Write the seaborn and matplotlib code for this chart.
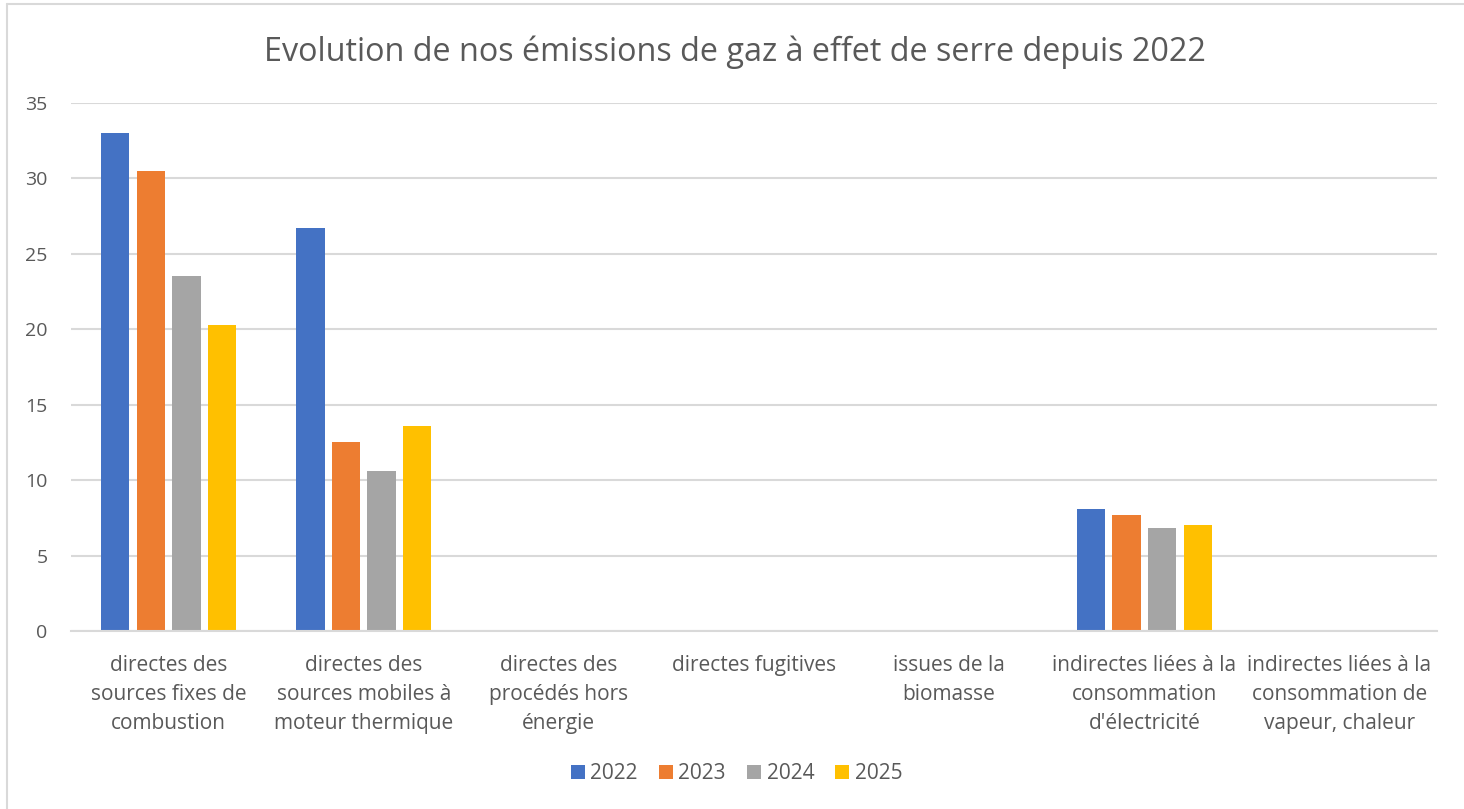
import numpy as np
import pandas as pd
import matplotlib.pyplot as plt
import seaborn as sns
from matplotlib.lines import Line2D

# données
categories = ['directes des\nsources fixes de\ncombustion',
              'directes des\nsources mobiles à\nmoteur thermique',
              'directes des\nprocédés hors\nénergie',
              'directes fugitives',
              'issues de la\nbiomasse',
              'indirectes liées à la\nconsommation\nd\'électricité',
              'indirectes liées à la\nconsommation de\nvapeur, chaleur']
years = ['2022', '2023', '2024', '2025']
v2022 = [33.0, 26.7, np.nan, np.nan, np.nan, 8.1, np.nan]
v2023 = [30.5, 12.5, np.nan, np.nan, np.nan, 7.7, np.nan]
v2024 = [23.5, 10.6, np.nan, np.nan, np.nan, 6.8, np.nan]
v2025 = [20.3, 13.6, np.nan, np.nan, np.nan, 7.0, np.nan]
colors = ['#4472C4', '#ED7D31', '#A5A5A5', '#FFC000']

rows = []
for y, vals in zip(years, [v2022, v2023, v2024, v2025]):
    for c, v in zip(categories, vals):
        if not np.isnan(v):
            rows.append({'cat': c, 'annee': y, 'val': v})
df = pd.DataFrame(rows)

sns.set_style('white')
plt.rcParams['font.family'] = ['Open Sans', 'DejaVu Sans']
txt = '#595959'

fig = plt.figure(figsize=(14.64, 8.09), dpi=100)
ax = fig.add_axes([0.0485, 0.22, 0.9331, 0.6527])

sns.barplot(data=df, x='cat', y='val', hue='annee', order=categories,
            hue_order=years, palette=colors, saturation=1, width=0.73, gap=0.2,
            linewidth=0, errorbar=None, legend=False, ax=ax)

ax.set_ylim(0, 35)
ax.set_yticks(range(0, 36, 5))
ax.set_xlim(-0.5, len(categories) - 0.5)
ax.yaxis.grid(True, color='#D9D9D9', linewidth=1.5)
ax.set_axisbelow(True)
for s in ['top', 'right', 'left']:
    ax.spines[s].set_visible(False)
ax.spines['bottom'].set_color('#D9D9D9')
ax.spines['bottom'].set_linewidth(1.5)
ax.tick_params(axis='y', length=0, pad=17, labelsize=14, labelcolor=txt)
ax.tick_params(axis='x', length=0, pad=17, labelsize=15, labelcolor=txt)
for lab in ax.get_xticklabels():
    lab.set_linespacing(1.52)
ax.set_xlabel('')
ax.set_ylabel('')

fig.suptitle('Evolution de nos émissions de gaz à effet de serre depuis 2022',
             x=0.502, y=0.956, fontsize=23.3, color=txt)

handles = [Line2D([], [], marker='s', linestyle='', markersize=10.5,
                  markerfacecolor=c, markeredgewidth=0) for c in colors]
fig.legend(handles, years, loc='center', bbox_to_anchor=(0.502, 0.044),
           ncol=4, frameon=False, fontsize=15, labelcolor=txt,
           handletextpad=0.1, columnspacing=0.85, handlelength=1.0)

# bordure de la zone du graphique (gauche et haut)
fig.add_artist(Line2D([0.005, 0.005], [0, 0.995], color='#D9D9D9', linewidth=1.5))
fig.add_artist(Line2D([0.005, 1.0], [0.995, 0.995], color='#D9D9D9', linewidth=1.5))

fig.savefig('out.png', dpi=100)
